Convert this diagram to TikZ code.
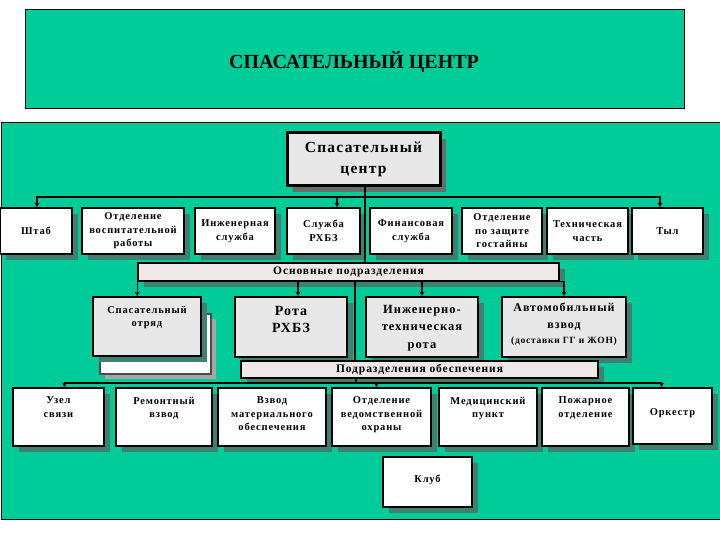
\documentclass[tikz,border=0pt]{standalone}
\usepackage{fontspec}
\setmainfont{Liberation Serif}
\newfontfamily\lsp[LetterSpace=8]{Liberation Serif}
\usetikzlibrary{arrows.meta,shadows}
\definecolor{tealc}{RGB}{0,204,153}
\definecolor{shdc}{RGB}{64,128,112}
\definecolor{cshd}{RGB}{100,110,106}
\definecolor{lgray}{RGB}{232,232,232}
\definecolor{barc}{RGB}{238,232,232}
\newcommand\topbox[4]{\parbox[c][#2][t]{#1}{\centering\vspace*{#3}#4}}
\begin{document}
\begin{tikzpicture}[x=1pt,y=-1pt,
  shadowed/.style={drop shadow={shadow xshift=6pt,shadow yshift=-6pt,fill=shdc,opacity=1}},
  box/.style={draw,line width=1.8pt,fill=white,align=center,inner sep=0pt,shadowed,
    font=\lsp\bfseries\fontsize{10.5}{13.5}\selectfont},
  gbox/.style={box,fill=lgray},
  bar/.style={draw,line width=1.6pt,fill=barc,inner sep=0pt,shadowed,
    font=\lsp\bfseries\fontsize{11.5}{14}\selectfont},
  conn/.style={line width=1.2pt},
  arr/.style={line width=1.2pt,-{Stealth[length=4.5pt,width=5pt]}}
]
\useasboundingbox (0,0) rectangle (720,540);
\fill[white] (0,0) rectangle (720,540);
\draw[fill=tealc,line width=0.8pt] (25,9) rectangle (684,108);
\node[font=\bfseries\fontsize{20}{23}\selectfont] (title) at (354,62) {СПАСАТЕЛЬНЫЙ ЦЕНТР};
\draw[fill=tealc,line width=0.8pt] (1,122) rectangle (722,519);

% centre
\node[draw,line width=3pt,fill=lgray,minimum width=153pt,minimum height=53pt,align=center,
  inner sep=0pt,drop shadow={shadow xshift=6pt,shadow yshift=-6pt,fill=cshd,opacity=1},
  font=\lsp\bfseries\fontsize{15.5}{21}\selectfont] (center) at (363.5,159.5) {Спасательный\\центр};

% row 1
\node[box,minimum width=72pt,minimum height=46pt] (shtab) at (36,231) {Штаб};
\node[box,minimum width=102pt,minimum height=46pt] (vosp) at (133,231) {Отделение\\воспитательной\\работы};
\node[box,minimum width=80pt,minimum height=46pt] (inzh) at (235,231) {Инженерная\\служба};
\node[box,minimum width=73pt,minimum height=46pt] (rxbz) at (323.5,231) {Служба\\РХБЗ};
\node[box,minimum width=82pt,minimum height=46pt] (fin) at (411,231) {Финансовая\\служба};
\node[box,minimum width=80pt,minimum height=46pt] (gost) at (502,231) {Отделение\\по защите\\гостайны};
\node[box,minimum width=81pt,minimum height=46pt] (tech) at (587.5,231) {Техническая\\часть};
\node[box,minimum width=71pt,minimum height=46pt] (tyl) at (667.5,231) {Тыл};

% bar 1
\node[bar,minimum width=421pt,minimum height=18pt] (osn) at (348.5,272) {Основные подразделения};

% row 2
\node[draw=black!70,line width=1.2pt,fill=white,minimum width=111pt,minimum height=60pt,inner sep=0pt,
  drop shadow={shadow xshift=5pt,shadow yshift=-5pt,fill=gray!70,opacity=1}] (otrb) at (155.5,344) {};
\node[gbox,minimum width=108pt,minimum height=59pt] (otr) at (147,326.5)
  {\topbox{106pt}{57pt}{8pt}{\lsp\bfseries\fontsize{10.5}{13}\selectfont Спасательный\\отряд}};
\node[gbox,minimum width=112pt,minimum height=60pt] (rota) at (291,327)
  {\topbox{110pt}{58pt}{8pt}{\lsp\bfseries\fontsize{14}{17.5}\selectfont Рота\\РХБЗ}};
\node[gbox,minimum width=112pt,minimum height=60pt] (itr) at (422,327)
  {\topbox{110pt}{58pt}{7pt}{\lsp\bfseries\fontsize{12.5}{17.5}\selectfont Инженерно-\\техническая\\рота}};
\node[gbox,minimum width=124pt,minimum height=60pt] (auto) at (564,327)
  {\topbox{122pt}{58pt}{5pt}{\lsp\bfseries\fontsize{12}{16.5}\selectfont Автомобильный\\взвод\\[-1pt]{\fontsize{9.5}{12}\selectfont(доставки ГГ и ЖОН)}}};

% bar 2
\node[bar,minimum width=357pt,minimum height=17pt] (obesp) at (419.5,369.5) {Подразделения обеспечения};

% row 3
\node[box,minimum width=91pt,minimum height=58pt] (uzel) at (58.5,417)
  {\topbox{89pt}{56pt}{8pt}{Узел\\связи}};
\node[box,minimum width=96pt,minimum height=58pt] (remont) at (164,417)
  {\topbox{94pt}{56pt}{8pt}{Ремонтный\\взвод}};
\node[box,minimum width=108pt,minimum height=58pt] (mat) at (272,417)
  {\topbox{106pt}{56pt}{8pt}{Взвод\\материального\\обеспечения}};
\node[box,minimum width=99pt,minimum height=58pt] (ohr) at (381.5,417)
  {\topbox{97pt}{56pt}{8pt}{Отделение\\ведомственной\\охраны}};
\node[box,minimum width=98pt,minimum height=58pt] (med) at (488,417)
  {\topbox{96pt}{56pt}{8pt}{Медицинский\\пункт}};
\node[box,minimum width=87pt,minimum height=58pt] (pozh) at (585.5,417)
  {\topbox{85pt}{56pt}{8pt}{Пожарное\\отделение}};
\node[box,minimum width=79pt,minimum height=56pt] (ork) at (672.5,416)
  {\topbox{77pt}{54pt}{20pt}{Оркестр}};
\node[box,minimum width=89pt,minimum height=50pt] (klub) at (427.5,482)
  {\topbox{87pt}{48pt}{17pt}{Клуб}};

% connectors
\coordinate (j1) at (365,197);
\draw[conn] (center.south -| j1) -- (j1);
\draw[arr] (j1) -| ([xshift=1pt]shtab.north);
\draw[arr] (j1) -| ([xshift=13.5pt]rxbz.north);
\draw[arr] (j1) -| ([xshift=-7.5pt]tyl.north);
\draw[conn] (j1) -- (j1 |- osn.north);

\coordinate (j2) at (355,320);
\draw[conn] (osn.south -| j2) -- (obesp.north -| j2);
\draw[arr] (osn.south west) -- (osn.south west |- otr.north);
\draw[arr] ([xshift=7pt]rota.north |- osn.south) -- ([xshift=7pt]rota.north);
\draw[arr] (itr.north |- osn.south) -- (itr.north);
\draw[arr] (osn.south east) -| (auto.north);

\coordinate (j3) at (356,383);
\draw[conn] (obesp.south -| j3) -- (j3);
\draw[arr] (j3) -| ([xshift=6pt]uzel.north);
\draw[arr] (j3) -| ([xshift=-5pt]ohr.north);
\draw[arr] (j3) -| ([xshift=-11pt]ork.north);
\end{tikzpicture}
\end{document}
